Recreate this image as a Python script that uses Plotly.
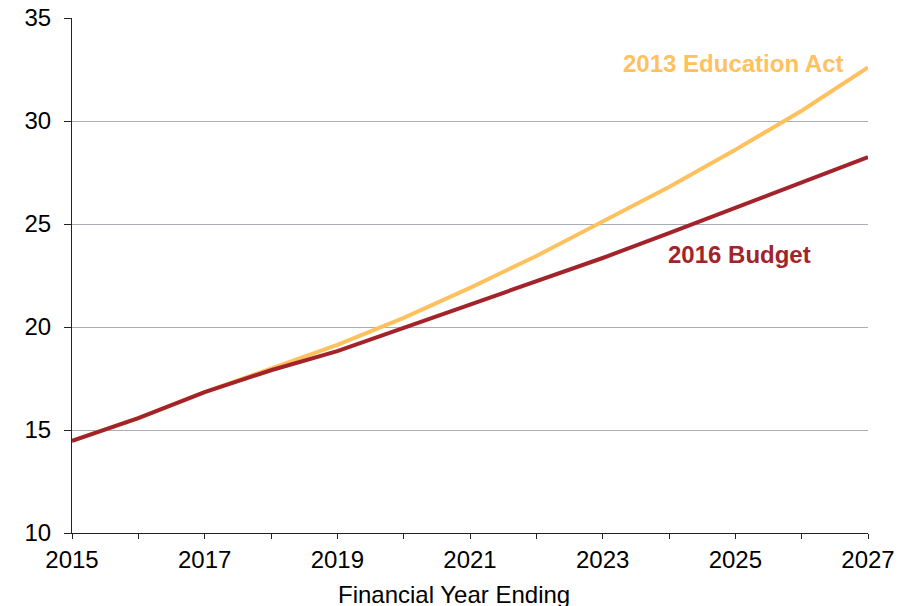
import plotly.graph_objects as go

years = list(range(2015, 2028))
budget_2016 = [14.47, 15.58, 16.84, 17.9, 18.83, 19.95, 21.1, 22.2, 23.35, 24.56, 25.78, 27.0, 28.25]
education_act_2013 = [14.47, 15.58, 16.84, 18.0, 19.13, 20.44, 21.9, 23.45, 25.1, 26.8, 28.6, 30.5, 32.6]
x_tick_labels = [str(y) if (y - 2015) % 2 == 0 else "" for y in years]
y_ticks = [10, 15, 20, 25, 30, 35]

YELLOW = "#FFC15E"
RED = "#A3232A"
FONT = "Liberation Sans, Arial, sans-serif"

fig = go.Figure()
fig.add_trace(go.Scatter(x=years, y=education_act_2013, mode="lines",
                         line=dict(color=YELLOW, width=4), name="2013 Education Act"))
fig.add_trace(go.Scatter(x=years, y=budget_2016, mode="lines",
                         line=dict(color=RED, width=4), name="2016 Budget"))

fig.add_annotation(x=2024.97, y=32.8, xref="x", yref="y", text="<b>2013 Education Act</b>",
                   showarrow=False, font=dict(family=FONT, size=24, color=YELLOW))
fig.add_annotation(x=2025.06, y=23.5, xref="x", yref="y", text="<b>2016 Budget</b>",
                   showarrow=False, font=dict(family=FONT, size=24, color=RED))
# axis title (slightly left of centre in the original)
fig.add_annotation(x=0.4793, y=0, xref="paper", yref="paper", yanchor="middle",
                   yshift=-61, text="Financial Year Ending", showarrow=False,
                   font=dict(family=FONT, size=24, color="#000000"))

fig.update_layout(
    width=902, height=598,
    margin=dict(l=64, r=42, t=10, b=73, autoexpand=False),
    paper_bgcolor="white", plot_bgcolor="white",
    showlegend=False,
    font=dict(family=FONT, size=24, color="#000000"),
)
fig.update_xaxes(
    range=[2015, 2027], tickvals=years, ticktext=x_tick_labels,
    ticks="outside", ticklen=5, tickcolor="#222222", tickwidth=1,
    showline=True, linecolor="#222222", linewidth=1,
    showgrid=False, zeroline=False, automargin=False,
    tickfont=dict(size=24), ticklabeloverflow="allow",
)
fig.update_yaxes(
    range=[10, 35], tickvals=y_ticks,
    ticks="outside", ticklen=7, tickcolor="#222222", tickwidth=1,
    showline=True, linecolor="#222222", linewidth=1, automargin=False,
    showgrid=True, gridcolor="#A9AEB5", gridwidth=1, zeroline=False,
    tickfont=dict(size=24), ticklabelstandoff=8, ticklabeloverflow="allow",
)

fig.write_html("out.html")
